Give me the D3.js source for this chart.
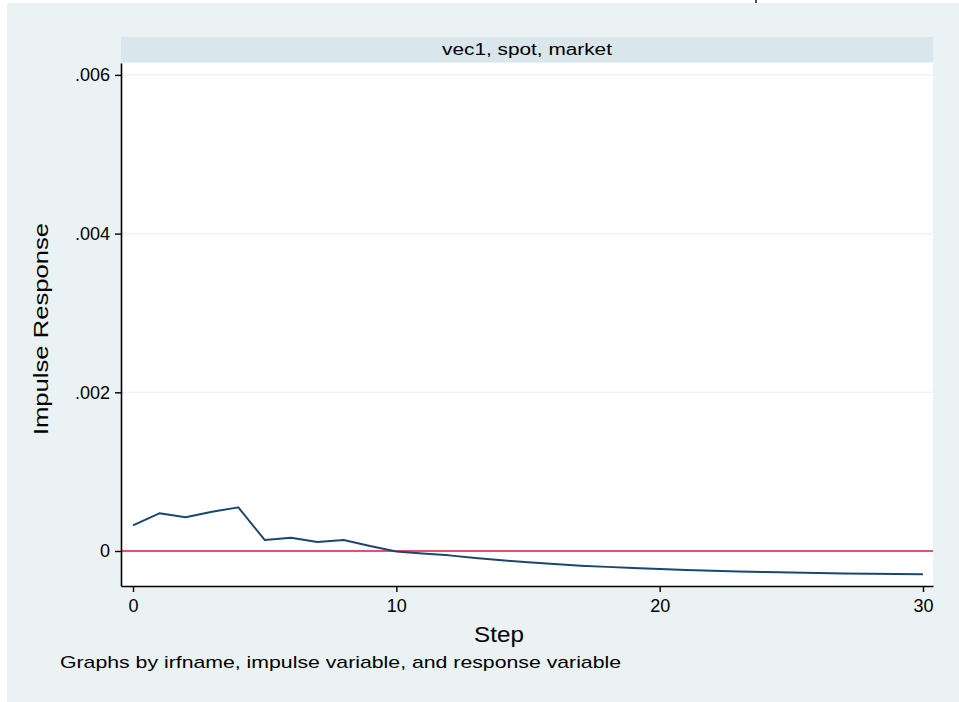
<!DOCTYPE html>
<html>
<head>
<meta charset="utf-8">
<script src="https://cdn.jsdelivr.net/npm/d3@7"></script>
<style>
  body { margin: 0; background: #fff; }
  svg { display: block; font-family: "Liberation Sans", Arial, sans-serif; }
</style>
</head>
<body>
<div id="chart"></div>
<script>
// Data
var steps = d3.range(0, 31);
var response = [
  0.000324, 0.000475, 0.000425, 0.000495, 0.000550,
  0.000139, 0.000168, 0.000113, 0.000139, 0.000063,
  -0.000005, -0.000030, -0.000055, -0.000088, -0.000118,
  -0.000143, -0.000165, -0.000185, -0.000200, -0.000215,
  -0.000228, -0.000238, -0.000248, -0.000257, -0.000264,
  -0.000270, -0.000276, -0.000282, -0.000287, -0.000291,
  -0.000294
];
var yTicks = [0, 0.002, 0.004, 0.006];
var yTickLabels = ["0", ".002", ".004", ".006"];
var xTicks = [0, 10, 20, 30];
var panelTitle = "vec1, spot, market";
var xTitle = "Step";
var yTitle = "Impulse Response";
var note = "Graphs by irfname, impulse variable, and response variable";

var W = 959, H = 702;
var plot = { left: 121, right: 933, top: 63, bottom: 586 };

// Stata's text renders wider than Arial, so stretch to the measured width
function stretch(sel, factor) {
    sel.each(function() {
        var w = this.getComputedTextLength();
        d3.select(this)
            .attr("textLength", w * factor)
            .attr("lengthAdjust", "spacingAndGlyphs");
    });
}

var svg = d3.select("#chart").append("svg")
    .attr("width", W)
    .attr("height", H);

// outer graph background
svg.append("rect")
    .attr("x", 7).attr("y", 3)
    .attr("width", W - 7).attr("height", H - 3)
    .attr("fill", "#eaf2f3");

// small mark at the top edge
svg.append("rect")
    .attr("x", 755).attr("y", 0)
    .attr("width", 2).attr("height", 3)
    .attr("fill", "#555");

// strip with the panel title
svg.append("rect")
    .attr("x", plot.left).attr("y", 37)
    .attr("width", plot.right - plot.left).attr("height", 25)
    .attr("fill", "#d9e6eb");
svg.append("text")
    .attr("x", (plot.left + plot.right) / 2)
    .attr("y", 49)
    .attr("dy", "0.35em")
    .attr("text-anchor", "middle")
    .attr("font-size", 16)
    .attr("fill", "#000")
    .text(panelTitle)
    .call(stretch, 1.3);

// plot region
svg.append("rect")
    .attr("x", plot.left).attr("y", plot.top)
    .attr("width", plot.right - plot.left).attr("height", plot.bottom - plot.top)
    .attr("fill", "#fff");

// scales
var x = d3.scaleLinear()
    .domain([-0.456, 30.38])
    .range([plot.left, plot.right]);

var y = d3.scaleLinear()
    .domain([-0.000441, 0.00615])
    .range([plot.bottom, plot.top]);

// grid lines
svg.append("g")
    .selectAll("line")
    .data(yTicks.filter(function(d) { return d !== 0; }))
    .enter().append("line")
    .attr("x1", plot.left).attr("x2", plot.right)
    .attr("y1", function(d) { return y(d); })
    .attr("y2", function(d) { return y(d); })
    .attr("stroke", "#eaf2f3")
    .attr("stroke-width", 1.2);

// zero reference line
svg.append("line")
    .attr("x1", plot.left).attr("x2", plot.right)
    .attr("y1", y(0)).attr("y2", y(0))
    .attr("stroke", "#d7193f")
    .attr("stroke-width", 1.7);

// the IRF line
var line = d3.line()
    .x(function(d, i) { return x(steps[i]); })
    .y(function(d) { return y(d); });

svg.append("path")
    .datum(response)
    .attr("d", line)
    .attr("fill", "none")
    .attr("stroke", "#1a476f")
    .attr("stroke-width", 2)
    .attr("stroke-linejoin", "round");

// y axis
var yAxis = svg.append("g")
    .attr("transform", "translate(" + plot.left + ",0)")
    .call(d3.axisLeft(y)
        .tickValues(yTicks)
        .tickFormat(function(d, i) { return yTickLabels[i]; })
        .tickSize(6)
        .tickPadding(5)
        .tickSizeOuter(0));
yAxis.select(".domain").attr("stroke", "#000").attr("stroke-width", 1.6);
yAxis.selectAll(".tick line").attr("stroke", "#000").attr("stroke-width", 1.4);
yAxis.selectAll(".tick text").attr("font-size", 18).attr("fill", "#000")
    .attr("font-family", "Liberation Sans, Arial, sans-serif");

// x axis
var xAxis = svg.append("g")
    .attr("transform", "translate(0," + plot.bottom + ")")
    .call(d3.axisBottom(x)
        .tickValues(xTicks)
        .tickFormat(d3.format("d"))
        .tickSize(6)
        .tickPadding(7)
        .tickSizeOuter(0));
xAxis.select(".domain").attr("stroke", "#000").attr("stroke-width", 1.6);
xAxis.selectAll(".tick line").attr("stroke", "#000").attr("stroke-width", 1.4);
xAxis.selectAll(".tick text").attr("font-size", 18).attr("fill", "#000")
    .attr("font-family", "Liberation Sans, Arial, sans-serif");

// axis titles
svg.append("text")
    .attr("x", 499)
    .attr("y", 634)
    .attr("dy", "0.35em")
    .attr("text-anchor", "middle")
    .attr("font-size", 22)
    .attr("fill", "#000")
    .text(xTitle)
    .call(stretch, 1.1);

svg.append("text")
    .attr("transform", "translate(41,329) rotate(-90)")
    .attr("dy", "0.35em")
    .attr("text-anchor", "middle")
    .attr("font-size", 21)
    .attr("fill", "#000")
    .text(yTitle)
    .call(stretch, 1.22);

// note
svg.append("text")
    .attr("x", 60)
    .attr("y", 662)
    .attr("dy", "0.35em")
    .attr("font-size", 17)
    .attr("fill", "#000")
    .text(note)
    .call(stretch, 1.25);
</script>
</body>
</html>
